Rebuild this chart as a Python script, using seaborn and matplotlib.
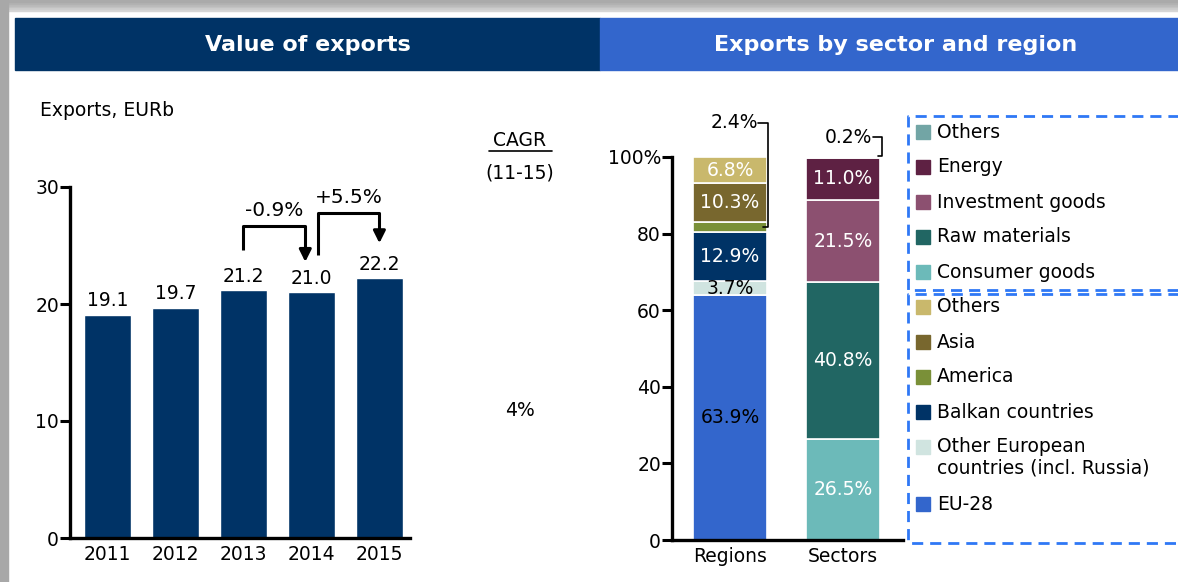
import numpy as np
import matplotlib
matplotlib.use("Agg")
import matplotlib.pyplot as plt
import seaborn as sns
from matplotlib.patches import Rectangle
from matplotlib.lines import Line2D

# --- data ---
years = ["2011", "2012", "2013", "2014", "2015"]
exports = [19.1, 19.7, 21.2, 21.0, 22.2]
growth_labels = ["-0.9%", "+5.5%"]
cagr_label = "4%"

stack_cats = ["Regions", "Sectors"]
region_names = ["EU-28", "Other European\ncountries (incl. Russia)", "Balkan countries",
                "America", "Asia", "Others"]
region_shares = [63.9, 3.7, 12.9, 2.4, 10.3, 6.8]
region_colors = ["#3366CC", "#D0E4E0", "#003366", "#7A9038", "#78672E", "#C9B86C"]
region_text = ["black", "black", "white", "white", "white", "white"]

sector_names = ["Consumer goods", "Raw materials", "Investment goods", "Energy", "Others"]
sector_shares = [26.5, 40.8, 21.5, 11.0, 0.2]
sector_colors = ["#6CBAB9", "#216663", "#8C5070", "#5E2143", "#72A5A5"]

W, H = 1178, 582
NAVY = "#003366"
BLUE = "#3366CC"
FS = 13.5


def px(x, y):
    """pixel position (from top-left) -> figure fraction"""
    return x / W, 1 - y / H


def setup_style():
    sns.set_theme(style="white")
    plt.rcParams["font.family"] = ["DejaVu Sans"]
    plt.rcParams["text.color"] = "black"
    plt.rcParams["axes.edgecolor"] = "black"
    plt.rcParams["xtick.color"] = "black"
    plt.rcParams["ytick.color"] = "black"
    plt.rcParams["axes.linewidth"] = 2.4
    plt.rcParams["xtick.major.width"] = 2.2
    plt.rcParams["ytick.major.width"] = 2.2


def frame(fig):
    # grey window shadow
    for i, c in enumerate(["#D6D6D6", "#CDCDCD", "#C4C4C4", "#BBBBBB", "#B2B2B2", "#AAAAAA"]):
        fig.add_artist(Rectangle(px(0, 11 - 11 * (i + 1) / 6 + 11 / 6), 1, 11 / 6 / H, color=c,
                                 transform=fig.transFigure, zorder=0))
    fig.add_artist(Rectangle(px(0, 582), 8 / W, 1, color="#A8A8A8", transform=fig.transFigure, zorder=0))
    # headers
    fig.add_artist(Rectangle(px(15, 70), 585 / W, 52 / H, color=NAVY, transform=fig.transFigure))
    fig.add_artist(Rectangle(px(600, 70), 578 / W, 52 / H, color=BLUE, transform=fig.transFigure))
    fig.text(*px(308, 45), "Value of exports", color="white", fontsize=16, fontweight="bold",
             ha="center", va="center")
    fig.text(*px(896, 45), "Exports by sector and region", color="white", fontsize=16,
             fontweight="bold", ha="center", va="center")


def left_chart(fig):
    ax = fig.add_axes([px(70, 0)[0], px(0, 538)[1], 340 / W, 351 / H])
    sns.barplot(x=years, y=exports, color=NAVY, saturation=1, width=0.68, ax=ax)
    ax.set_xlim(-0.55, 4.45)
    ax.set_ylim(0, 30)
    ax.set_yticks([0, 10, 20, 30])
    sns.despine(ax=ax)
    ax.tick_params(axis="y", direction="out", length=7, labelsize=FS, pad=1, left=True)
    ax.tick_params(axis="x", length=0, labelsize=FS, pad=5)
    ax.set_xlabel("")
    ax.set_ylabel("")
    for i, v in enumerate(exports):
        ax.annotate(f"{v:.1f}", (i, v), xytext=(0, 3), textcoords="offset points",
                    ha="center", va="bottom", fontsize=FS)

    # growth brackets
    for k, (i, lab) in enumerate(zip([2, 3], growth_labels)):
        x0 = i + (0.0 if k == 0 else 0.1)
        x1 = i + 1 - (0.09 if k == 0 else 0.0)
        top = max(exports[i], exports[i + 1]) + (5.5 if k == 0 else 5.6)
        y0 = exports[i] + (3.4 if k == 0 else 3.2)
        y1 = exports[i + 1] + (2.6 if k == 0 else 3.0)
        ax.plot([x0, x0, x1, x1], [y0, top, top, y1 + 0.9], color="black", lw=2.2,
                solid_capstyle="butt", clip_on=False)
        ax.annotate("", xy=(x1, y1), xytext=(x1, y1 + 1.0),
                    arrowprops=dict(arrowstyle="-|>,head_length=0.6,head_width=0.3",
                                    color="black", lw=2.2, shrinkA=0, shrinkB=0),
                    annotation_clip=False)
        ax.text((x0 + x1) / 2, top + 0.5, lab, ha="center", va="bottom", fontsize=14.5,
                clip_on=False)

    fig.text(*px(40, 110), "Exports, EURb", fontsize=FS, ha="left", va="center")
    fig.text(*px(520, 140), "CAGR", fontsize=FS, ha="center", va="center")
    fig.add_artist(Line2D([px(489, 0)[0], px(552, 0)[0]], [px(0, 151)[1]] * 2,
                          color="black", lw=1.2, transform=fig.transFigure))
    fig.text(*px(520, 173), "(11-15)", fontsize=FS, ha="center", va="center")
    fig.text(*px(520, 410), cagr_label, fontsize=FS, ha="center", va="center")


def right_chart(fig):
    ax = fig.add_axes([px(672, 0)[0], px(0, 540)[1], 231 / W, 383 / H])
    width = 0.655

    bottom = 0.0
    for name, v, c, tc in zip(region_names, region_shares, region_colors, region_text):
        ax.bar(0, v, bottom=bottom, width=width, color=c, edgecolor="white", linewidth=1.2)
        if v > 3:
            ax.text(0, bottom + v / 2, f"{v:.1f}%", ha="center", va="center", color=tc,
                    fontsize=FS)
        else:
            mid = bottom + v / 2
            ax.text(0.25, 108.9, f"{v:.1f}%", ha="right", va="center", fontsize=FS,
                    clip_on=False)
            ax.plot([0.25, 0.336, 0.336, 0.29], [108.9, 108.9, mid, mid], color="black",
                    lw=1.2, clip_on=False)
        bottom += v

    bottom = 0.0
    for name, v, c in zip(sector_names, sector_shares, sector_colors):
        ax.bar(1, v, bottom=bottom, width=width, color=c, edgecolor="white", linewidth=1.2)
        if v > 3:
            ax.text(1, bottom + v / 2, f"{v:.1f}%", ha="center", va="center", color="white",
                    fontsize=FS)
        else:
            ax.text(1.26, 105.2, f"{v:.1f}%", ha="right", va="center", fontsize=FS,
                    clip_on=False)
            ax.plot([1.265, 1.345, 1.345, 1.31], [105.2, 105.2, 100.2, 100.2],
                    color="black", lw=1.2, clip_on=False)
        bottom += v

    ax.set_xlim(-0.513, 1.53)
    ax.set_ylim(0, 100)
    ax.set_xticks([0, 1])
    ax.set_xticklabels(stack_cats)
    ax.set_yticks([0, 20, 40, 60, 80, 100])
    ax.set_yticklabels(["0", "20", "40", "60", "80", "100%"])
    sns.despine(ax=ax)
    ax.tick_params(axis="y", direction="out", length=7, labelsize=FS, pad=1, left=True)
    ax.tick_params(axis="x", length=0, labelsize=FS, pad=5)


def legend_boxes(fig):
    boxes = [(116, 290), (294, 543)]
    for y0, y1 in boxes:
        xs = [1180, 908, 908, 1180]
        ys = [y0, y0, y1, y1]
        fig.add_artist(Line2D([x / W for x in xs], [1 - y / H for y in ys], color="#2F78F5",
                              lw=2, ls=(0, (4, 2.5)), transform=fig.transFigure))

    items = list(zip(reversed(sector_names), reversed(sector_colors)))
    ys = [132, 167, 202, 237, 272]
    items += list(zip(reversed(region_names), reversed(region_colors)))
    ys += [307, 342, 377, 412, 447, 504]
    for (name, c), y in zip(items, ys):
        fig.add_artist(Rectangle(px(916, y + 7), 14 / W, 14 / H, color=c,
                                 transform=fig.transFigure))
        va = "top" if "\n" in name else "center"
        ty = y - 10 if "\n" in name else y
        fig.text(*px(937, ty), name, fontsize=FS, ha="left", va=va, linespacing=1.15)


def main():
    setup_style()
    fig = plt.figure(figsize=(W / 100, H / 100), dpi=100)
    fig.patch.set_facecolor("white")
    frame(fig)
    left_chart(fig)
    right_chart(fig)
    legend_boxes(fig)
    fig.savefig("out.png", dpi=100)
    plt.close(fig)


if __name__ == "__main__":
    main()
